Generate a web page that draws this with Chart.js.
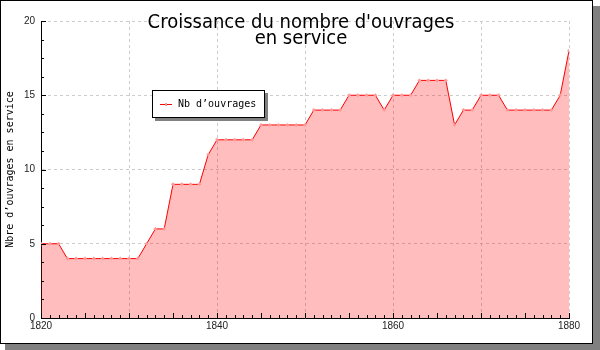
<!DOCTYPE html>
<html>
<head>
<meta charset="utf-8">
<script src="https://cdn.jsdelivr.net/npm/chart.js@4"></script>
<style>
  body { margin: 0; background: #fff; }
</style>
</head>
<body>
<canvas id="myChart" width="600" height="350"></canvas>
<script>
// data
var titleLines = ["Croissance du nombre d'ouvrages", "en service"];
var yTitle = "Nbre d\u2019ouvrages en service";
var seriesLabel = "Nb d\u2019ouvrages";
var years = [1820, 1821, 1822, 1823, 1824, 1825, 1826, 1827, 1828, 1829,
             1830, 1831, 1832, 1833, 1834, 1835, 1836, 1837, 1838, 1839,
             1840, 1841, 1842, 1843, 1844, 1845, 1846, 1847, 1848, 1849,
             1850, 1851, 1852, 1853, 1854, 1855, 1856, 1857, 1858, 1859,
             1860, 1861, 1862, 1863, 1864, 1865, 1866, 1867, 1868, 1869,
             1870, 1871, 1872, 1873, 1874, 1875, 1876, 1877, 1878, 1879, 1880];
var counts = [5, 5, 5, 4, 4, 4, 4, 4, 4, 4,
              4, 4, 5, 6, 6, 9, 9, 9, 9, 11,
              12, 12, 12, 12, 12, 13, 13, 13, 13, 13,
              13, 14, 14, 14, 14, 15, 15, 15, 15, 14,
              15, 15, 15, 16, 16, 16, 16, 13, 14, 14,
              15, 15, 15, 14, 14, 14, 14, 14, 14, 15, 18];
var xLabelEvery = 20;
var xGridEvery = 10;
var yLabelEvery = 5;

var points = years.map(function (y, i) { return { x: y, y: counts[i] }; });

// frame with drop shadow, like the original image
var framePlugin = {
  id: 'frame',
  beforeDraw: function (chart) {
    var c = chart.ctx;
    c.save();
    c.fillStyle = '#808080';
    c.fillRect(5, 6, 595, 344);
    c.fillStyle = '#ffffff';
    c.fillRect(0, 0, 593, 344);
    c.strokeStyle = '#000';
    c.lineWidth = 1;
    c.strokeRect(0.5, 0.5, 592, 343);
    c.restore();
  }
};

// small tick marks pointing into the plot
var innerTicks = {
  id: 'innerTicks',
  afterDraw: function (chart) {
    var c = chart.ctx;
    var xs = chart.scales.x, ys = chart.scales.y;
    var a = chart.chartArea;
    c.save();
    c.strokeStyle = '#000';
    c.lineWidth = 1;
    c.beginPath();
    xs.ticks.forEach(function (t) {
      var px = Math.round(xs.getPixelForValue(t.value)) + 0.5;
      var len = (t.value % 5 === 0) ? 5 : 3;
      c.moveTo(px, a.bottom);
      c.lineTo(px, a.bottom - len);
    });
    ys.ticks.forEach(function (t) {
      var py = Math.round(ys.getPixelForValue(t.value)) + 0.5;
      var len = (t.value % 5 === 0) ? 5 : 3;
      c.moveTo(a.left, py);
      c.lineTo(a.left + len, py);
    });
    c.stroke();
    c.restore();
  }
};

// title over the plot and a floating legend box
var overlay = {
  id: 'overlay',
  afterDraw: function (chart) {
    var c = chart.ctx;
    c.save();
    c.fillStyle = '#000';
    c.font = '20px "DejaVu Sans Condensed", "DejaVu Sans"';
    c.textAlign = 'center';
    c.textBaseline = 'alphabetic';
    c.fillText(titleLines[0], 301, 28, 310);
    c.fillText(titleLines[1], 301, 44, 310);

    var ds = chart.data.datasets[0];
    c.fillStyle = '#808080';
    c.fillRect(155, 93, 113, 28);
    c.fillStyle = '#fff';
    c.fillRect(152, 90, 113, 28);
    c.strokeStyle = '#000';
    c.strokeRect(152.5, 90.5, 112, 27);
    c.strokeStyle = ds.borderColor;
    c.beginPath();
    c.moveTo(160, 104.5);
    c.lineTo(172, 104.5);
    c.stroke();
    c.fillStyle = ds.pointBackgroundColor;
    c.fillRect(165, 103, 2, 3);
    c.fillStyle = '#000';
    c.font = '10px "DejaVu Sans Mono"';
    c.textAlign = 'left';
    c.textBaseline = 'middle';
    c.fillText(ds.label, 178, 104);
    c.restore();
  }
};

var ctx = document.getElementById('myChart');
var myChart = new Chart(ctx, {
  type: 'line',
  data: {
    datasets: [{
      label: seriesLabel,
      data: points,
      borderColor: '#ff0000',
      borderWidth: 1,
      backgroundColor: 'rgba(255, 0, 0, 0.26)',
      fill: 'origin',
      tension: 0,
      pointStyle: 'rectRot',
      pointRadius: 2,
      pointBorderWidth: 0,
      pointBackgroundColor: '#ff9a9a'
    }]
  },
  options: {
    responsive: false,
    animation: false,
    devicePixelRatio: 1,
    layout: { padding: { left: 0, top: 21, right: 31, bottom: 0 } },
    plugins: {
      legend: { display: false },
      title: { display: false },
      tooltip: { enabled: false }
    },
    scales: {
      x: {
        type: 'linear',
        min: years[0],
        max: years[years.length - 1],
        afterFit: function (s) { s.height = 32; },
        border: { display: true, color: '#000', width: 1, dash: [3, 3] },
        grid: {
          drawTicks: false,
          color: function (c) {
            return (c.tick && c.tick.value % xGridEvery === 0) ? '#cccccc' : 'rgba(0,0,0,0)';
          }
        },
        ticks: {
          stepSize: 1,
          autoSkip: false,
          maxRotation: 0,
          padding: 2,
          color: '#222',
          font: { family: 'Liberation Sans', size: 10 },
          callback: function (v) { return v % xLabelEvery === 0 ? String(v) : ''; }
        }
      },
      y: {
        min: 0,
        max: 20,
        afterFit: function (s) { s.width = 41; },
        border: { display: true, color: '#000', width: 1, dash: [3, 3] },
        grid: {
          drawTicks: false,
          color: function (c) {
            return (c.tick && c.tick.value % yLabelEvery === 0) ? '#cccccc' : 'rgba(0,0,0,0)';
          }
        },
        title: {
          display: true,
          text: yTitle,
          color: '#000',
          padding: { top: 4, bottom: 0 },
          font: { family: 'DejaVu Sans Mono', size: 10 }
        },
        ticks: {
          stepSize: 1.25,
          autoSkip: false,
          padding: 6,
          color: '#222',
          font: { family: 'Liberation Sans', size: 10 },
          callback: function (v) { return v % yLabelEvery === 0 ? String(v) : ''; }
        }
      }
    }
  },
  plugins: [framePlugin, innerTicks, overlay]
});
</script>
</body>
</html>
